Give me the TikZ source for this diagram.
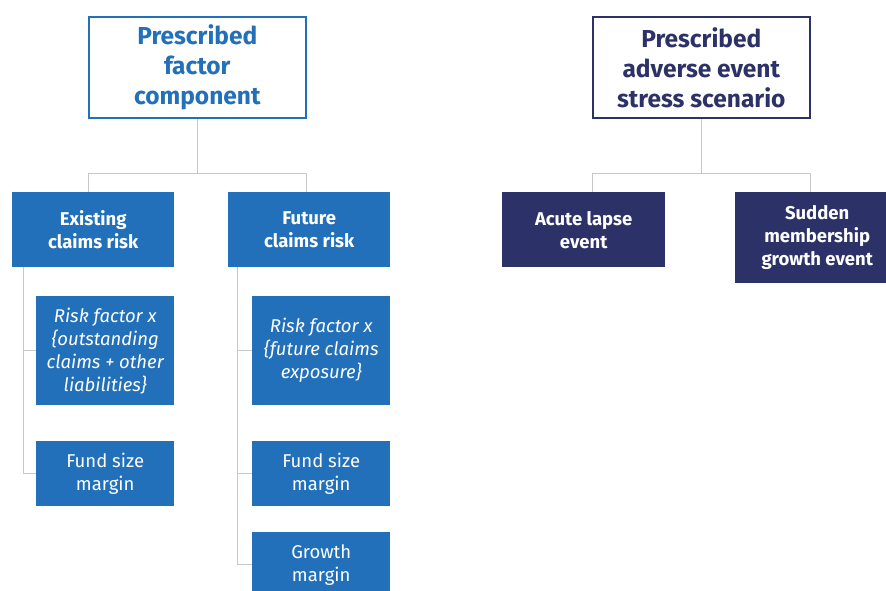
\documentclass[tikz,border=0pt]{standalone}
\usepackage{fontspec}
\setmainfont{Fira Sans}
\usetikzlibrary{calc}
\definecolor{factorblue}{RGB}{33,112,185}
\definecolor{eventnavy}{RGB}{44,49,104}
\definecolor{linkgrey}{RGB}{200,200,200}

\begin{document}
\begin{tikzpicture}[x=1pt,y=-1pt,
	head/.style={draw,line width=1.6pt,fill=white,anchor=north west,align=center,font=\fontsize{24.5}{30}\selectfont\bfseries,inner sep=0pt,minimum width=217,minimum height=101},
	sub/.style={fill=#1,text=white,anchor=north west,align=center,inner sep=0pt,font=\fontsize{18.5}{23}\selectfont},
	link/.style={draw=linkgrey,line width=1pt}]
		\clip (0,0) rectangle (886,590);
		% prescribed factor
		\node (pf) at (88,16) [head,draw=factorblue,text=factorblue] {Prescribed\\factor\\component};
		\node (ec) at (12,192) [sub=factorblue,minimum width=162,minimum height=75,font=\fontsize{18.5}{23}\selectfont\bfseries] {Existing\\claims risk};
		\node (fc) at (228,192) [sub=factorblue,minimum width=162,minimum height=75,font=\fontsize{18.5}{23}\selectfont\bfseries] {Future\\claims risk};
		\node (rf1) at (36,296) [sub=factorblue,minimum width=138,minimum height=109,font=\fontsize{18.5}{23}\selectfont\itshape] {Risk factor x\\\{outstanding\\claims + other\\liabilities\}};
		\node (fs1) at (36,441) [sub=factorblue,minimum width=138,minimum height=65] {Fund size\\margin};
		\node (rf2) at (252,296) [sub=factorblue,minimum width=138,minimum height=109,font=\fontsize{18.5}{23}\selectfont\itshape] {Risk factor x\\\{future claims\\exposure\}};
		\node (fs2) at (252,441) [sub=factorblue,minimum width=138,minimum height=65] {Fund size\\margin};
		\node (gm) at (252,532) [sub=factorblue,minimum width=138,minimum height=65] {Growth\\margin};
		% prescribed adverse event
		\node (pa) at (592,16) [head,draw=eventnavy,text=eventnavy] {Prescribed\\adverse event\\stress scenario};
		\node (al) at (502,192) [sub=eventnavy,minimum width=163,minimum height=75,font=\fontsize{18.5}{23}\selectfont\bfseries] {Acute lapse\\event};
		\node (sm) at (735,192) [sub=eventnavy,minimum width=164,minimum height=91,font=\fontsize{18.5}{23}\selectfont\bfseries] {Sudden\\membership\\growth event};
		% connectors
		\coordinate (pfj) at ($(pf.south)+(0,55)$);
		\coordinate (paj) at ($(pa.south)+(0,55)$);
		\draw[link] (pf.south) -- (pfj);
		\draw[link] (pf.west |- ec.north) -- (pf.west |- pfj) -- (pf.east |- pfj) -- (pf.east |- fc.north);
		\draw[link] (pa.south) -- (paj);
		\draw[link] (pa.west |- al.north) -- (pa.west |- paj) -- (pa.east |- paj) -- (pa.east |- sm.north);
		\draw[link] ([xshift=11]ec.south west) |- (rf1.west);
		\draw[link] ([xshift=11]ec.south west) |- (fs1.west);
		\draw[link] ([xshift=9]fc.south west) |- (rf2.west);
		\draw[link] ([xshift=9]fc.south west) |- (fs2.west);
		\draw[link] ([xshift=9]fc.south west) |- (gm.west);
	\end{tikzpicture}
\end{document}
